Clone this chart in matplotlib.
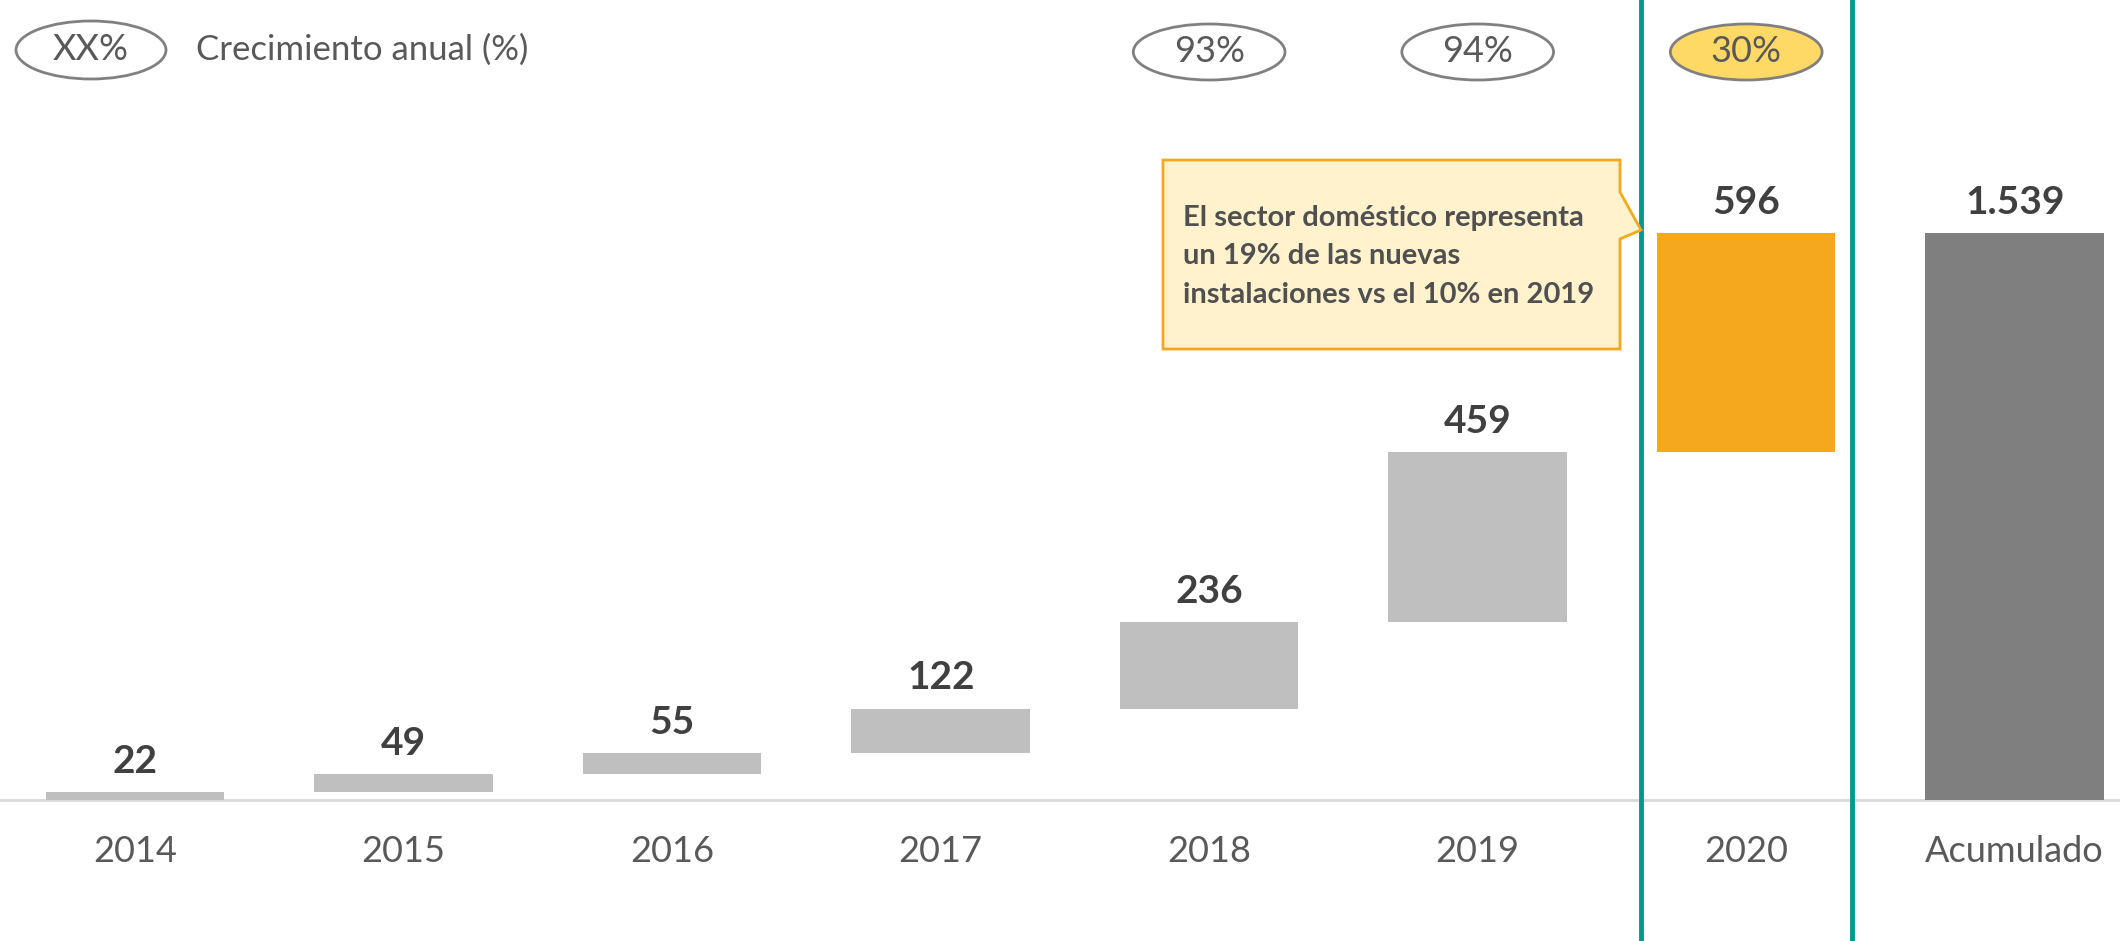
import matplotlib.pyplot as plt
import matplotlib.transforms as mtransforms
from matplotlib.patches import Ellipse, Rectangle, Polygon

# Daten
categories = ["2014", "2015", "2016", "2017", "2018", "2019", "2020", "Acumulado"]
values = [22, 49, 55, 122, 236, 459, 596, 1539]
growth_labels = {4: "93%", 5: "94%", 6: "30%"}
callout_lines = ["El sector doméstico representa",
                 "un 19% de las nuevas",
                 "instalaciones vs el 10% en 2019"]

# Waterfall: Basis jeder Säule = Summe der Vorjahre, Acumulado ab 0
bottoms = []
acc = 0
for v in values[:-1]:
    bottoms.append(acc)
    acc += v
bottoms.append(0)

colors = ["#BFBFBF"] * 6 + ["#F4A81D", "#7F7F7F"]
text_grey = "#595959"
teal = "#00998F"

plt.rcParams["font.family"] = ["Lato", "DejaVu Sans"]

W, H = 2120, 941
fig = plt.figure(figsize=(W / 100, H / 100), dpi=100)
ax = fig.add_axes([0, 0, 1, 1])
ax.set_xlim(-0.503, 7.392)
ax.set_ylim(-383, 2171)
ax.axis("off")

# Pixel-Transformation (Ursprung oben links)
px = mtransforms.Affine2D().scale(1 / W, -1 / H).translate(0, 1) + fig.transFigure
xdata_yaxes = mtransforms.blended_transform_factory(ax.transData, ax.transAxes)

x = list(range(len(categories)))
ax.bar(x, values, bottom=bottoms, width=0.665, color=colors, zorder=2)
ax.axhline(0, color="#D9D9D9", lw=2, zorder=1)

for i, (v, b) in enumerate(zip(values, bottoms)):
    label = f"{v:,}".replace(",", ".")
    ax.annotate(label, (i, v + b), xytext=(0, 22), textcoords="offset points",
                ha="center", va="center", fontsize=28, fontweight="bold",
                color="#404040")
    ax.text(i, 1 - 852 / H, categories[i], transform=xdata_yaxes,
            ha="center", va="center", fontsize=26, color=text_grey)

# Wachstumsraten (Ellipsen)
for i, lab in growth_labels.items():
    face = "#FFD966" if i == 6 else "white"
    ax.add_patch(Ellipse((i, 1 - 52 / H), 0.565, 56 / H, transform=xdata_yaxes,
                         facecolor=face, edgecolor="#808080", lw=2, zorder=3))
    ax.text(i, 1 - 52 / H, lab, transform=xdata_yaxes, ha="center", va="center",
            fontsize=26, color=text_grey, zorder=4)

# Legende
ax.add_patch(Ellipse((91, 50), 150, 58, transform=px, facecolor="white",
                     edgecolor="#808080", lw=2, zorder=3))
ax.text(91, 50, "XX%", transform=px, ha="center", va="center", fontsize=26,
        color=text_grey, zorder=4)
ax.text(196, 50, "Crecimiento anual (%)", transform=px, ha="left", va="center",
        fontsize=25, color=text_grey)

# Rahmen um 2020
ax.add_patch(Rectangle((6 - 0.393, -0.05), 0.786, 1.1, transform=xdata_yaxes,
                       fill=False, edgecolor=teal, lw=3.5, zorder=5, clip_on=False))

# Sprechblase
pts = [(1163, 160), (1620, 160), (1620, 192), (1641, 230), (1620, 239),
       (1620, 349), (1163, 349)]
ax.add_patch(Polygon(pts, closed=True, transform=px, facecolor="#FFF2CC",
                     edgecolor="#F4A81D", lw=2, zorder=6))
for k, line in enumerate(callout_lines):
    ax.text(1183, 218 + k * 38.5, line, transform=px, ha="left", va="center",
            fontsize=21, fontweight="bold", color="#505050", zorder=7)

fig.savefig("out.png", dpi=100)
